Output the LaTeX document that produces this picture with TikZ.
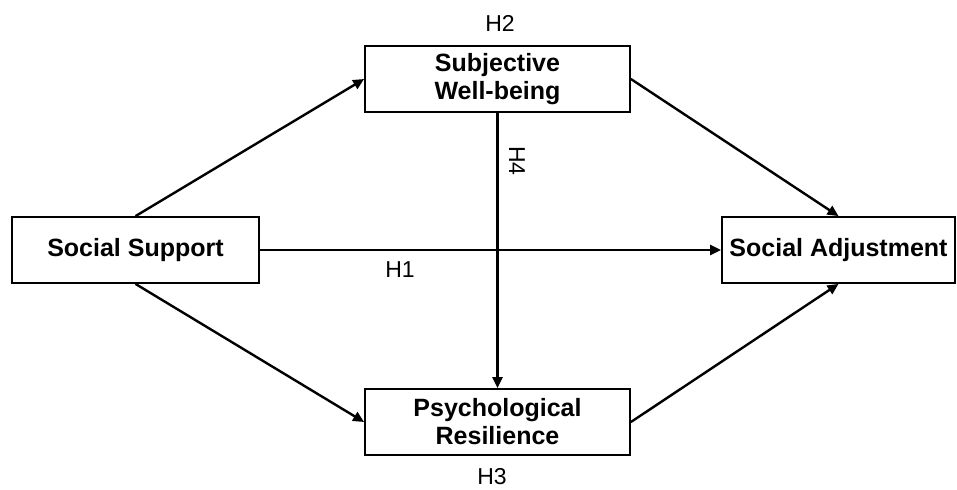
\documentclass[tikz,border=0pt]{standalone}
\usepackage{fontspec}
\setmainfont{Liberation Sans}
\usetikzlibrary{arrows.meta}
\tikzset{
  var/.style={draw, line width=0.9pt, fill=white, inner sep=0pt, align=center,
    font=\fontsize{12.5}{14}\selectfont\bfseries},
  hyp/.style={font=\fontsize{11.5}{13}\selectfont},
  path/.style={line width=1.2pt, -{Triangle[length=5.5pt,width=5pt]}}
}
\begin{document}
\begin{tikzpicture}[x=0.5pt, y=-0.5pt]
      \useasboundingbox (0,0) rectangle (957,489);
      \draw
        (135.5,250) node[var, minimum width=123.5pt, minimum height=33pt] (support){Social Support}
        (838.5,250) node[var, minimum width=116.5pt, minimum height=33pt] (adjust){Social Adjustment}
        (497.5,79) node[var, minimum width=132.5pt, minimum height=33pt] (wellbeing){Subjective\\Well-being}
        (497.5,422) node[var, minimum width=132.5pt, minimum height=33pt] (resilience){Psychological\\Resilience};
      \draw
        (500,23) node[hyp] (h2){H2}
        (492,477) node[hyp] (h3){H3}
        (400,270) node[hyp] (h1){H1}
        (517,161) node[hyp, rotate=-90] (h4){H4};
      \begin{scope}[path]
        \draw (support.north) to (wellbeing.west);
        \draw (support.south) to (resilience.west);
        \draw (support.east) to (adjust.west);
        \draw (wellbeing.east) to (adjust.north);
        \draw (resilience.east) to (adjust.south);
        \draw (wellbeing.south) to (resilience.north);
      \end{scope}
    \end{tikzpicture}
\end{document}
